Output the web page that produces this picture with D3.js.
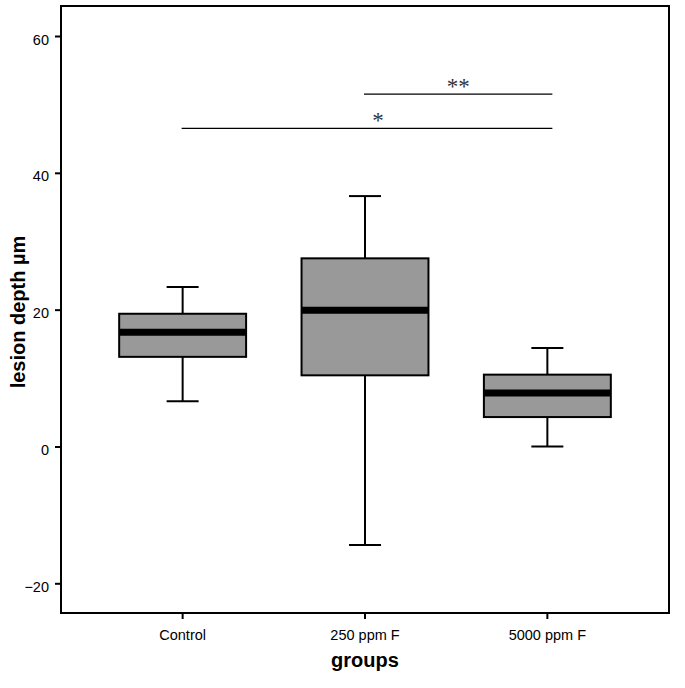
<!DOCTYPE html>
<html><head><meta charset="utf-8">
<script src="https://cdn.jsdelivr.net/npm/d3@7"></script>
<style>body{margin:0;background:#fff}</style>
</head><body>
<script>
const categories = ["Control", "250 ppm F", "5000 ppm F"];
const whiskerLow = [6.6, -14.4, 0.0];
const q1 = [13.1, 10.4, 4.3];
const medians = [16.7, 19.9, 7.8];
const q3 = [19.4, 27.5, 10.5];
const whiskerHigh = [23.3, 36.6, 14.4];
const yTicks = [-20, 0, 20, 40, 60];
const sigPairs = [
  {from: "Control", to: "5000 ppm F", y: 46.5, label: "*"},
  {from: "250 ppm F", to: "5000 ppm F", y: 51.5, label: "**"}
];

const W = 685, H = 688;
const mLeft = 61, mRight = 669, mTop = 6, mBottom = 613;
const svg = d3.select("body").append("svg").attr("width", W).attr("height", H);
const sans = "Liberation Sans, Arial, sans-serif";

const y = d3.scaleLinear().domain([-20, 60]).range([583.3, 36]);
const x = d3.scaleBand().domain(categories).range([mLeft, mRight]).paddingInner(0.304).paddingOuter(0.319);
const cx = c => x(c) + x.bandwidth() / 2;

// frame
svg.append("rect").attr("x", mLeft).attr("y", mTop).attr("width", mRight - mLeft).attr("height", mBottom - mTop)
  .attr("fill", "none").attr("stroke", "#000").attr("stroke-width", 2);

// y axis
const yAxis = svg.append("g").attr("transform", `translate(${mLeft},0)`)
  .call(d3.axisLeft(y).tickValues(yTicks).tickSize(6).tickPadding(6));
yAxis.select(".domain").remove();
yAxis.selectAll("line").attr("stroke", "#000").attr("stroke-width", 2);
yAxis.selectAll("text").attr("font-family", sans).attr("font-size", 14.5).attr("fill", "#000").attr("dy", "0.56em");

// x axis
const xAxis = svg.append("g").attr("transform", `translate(0,${mBottom})`)
  .call(d3.axisBottom(x).tickSize(6).tickPadding(11));
xAxis.select(".domain").remove();
xAxis.selectAll("line").attr("stroke", "#000").attr("stroke-width", 2);
xAxis.selectAll("text").attr("font-family", sans).attr("font-size", 14.5).attr("fill", "#000");

// boxes
const data = categories.map((c, i) => ({c, lo: whiskerLow[i], q1: q1[i], med: medians[i], q3: q3[i], hi: whiskerHigh[i]}));
const capW = 32;
const g = svg.append("g");
data.forEach(d => {
  const xc = cx(d.c);
  g.append("line").attr("x1", xc).attr("x2", xc).attr("y1", y(d.hi)).attr("y2", y(d.q3)).attr("stroke", "#000").attr("stroke-width", 2);
  g.append("line").attr("x1", xc).attr("x2", xc).attr("y1", y(d.q1)).attr("y2", y(d.lo)).attr("stroke", "#000").attr("stroke-width", 2);
  g.append("line").attr("x1", xc - capW/2).attr("x2", xc + capW/2).attr("y1", y(d.hi)).attr("y2", y(d.hi)).attr("stroke", "#000").attr("stroke-width", 2);
  g.append("line").attr("x1", xc - capW/2).attr("x2", xc + capW/2).attr("y1", y(d.lo)).attr("y2", y(d.lo)).attr("stroke", "#000").attr("stroke-width", 2);
  g.append("rect").attr("x", x(d.c)).attr("width", x.bandwidth()).attr("y", y(d.q3)).attr("height", y(d.q1) - y(d.q3))
    .attr("fill", "#999999").attr("stroke", "#000").attr("stroke-width", 2);
  g.append("line").attr("x1", x(d.c)).attr("x2", x(d.c) + x.bandwidth()).attr("y1", y(d.med)).attr("y2", y(d.med))
    .attr("stroke", "#000").attr("stroke-width", 7);
});

// significance
const labelNudge = [11, 0];
sigPairs.forEach((s, i) => {
  const x1 = cx(s.from) - 1, x2 = cx(s.to) + 5;
  svg.append("line").attr("x1", x1).attr("x2", x2).attr("y1", y(s.y)).attr("y2", y(s.y)).attr("stroke", "#000").attr("stroke-width", 1.3);
  svg.append("text").attr("x", (x1 + x2) / 2 + labelNudge[i]).attr("y", y(s.y) - 0.5).attr("text-anchor", "middle")
    .attr("font-family", "Liberation Serif, Times New Roman, serif").attr("font-size", 23).attr("fill", "#333").text(s.label);
});

// axis titles
svg.append("text").attr("transform", `translate(25,312) rotate(-90)`).attr("text-anchor", "middle")
  .attr("font-family", sans).attr("font-weight", "bold").attr("font-size", 20).text("lesion depth µm");
svg.append("text").attr("x", 365).attr("y", 667).attr("text-anchor", "middle")
  .attr("font-family", sans).attr("font-weight", "bold").attr("font-size", 20).text("groups");
</script>
</body></html>
